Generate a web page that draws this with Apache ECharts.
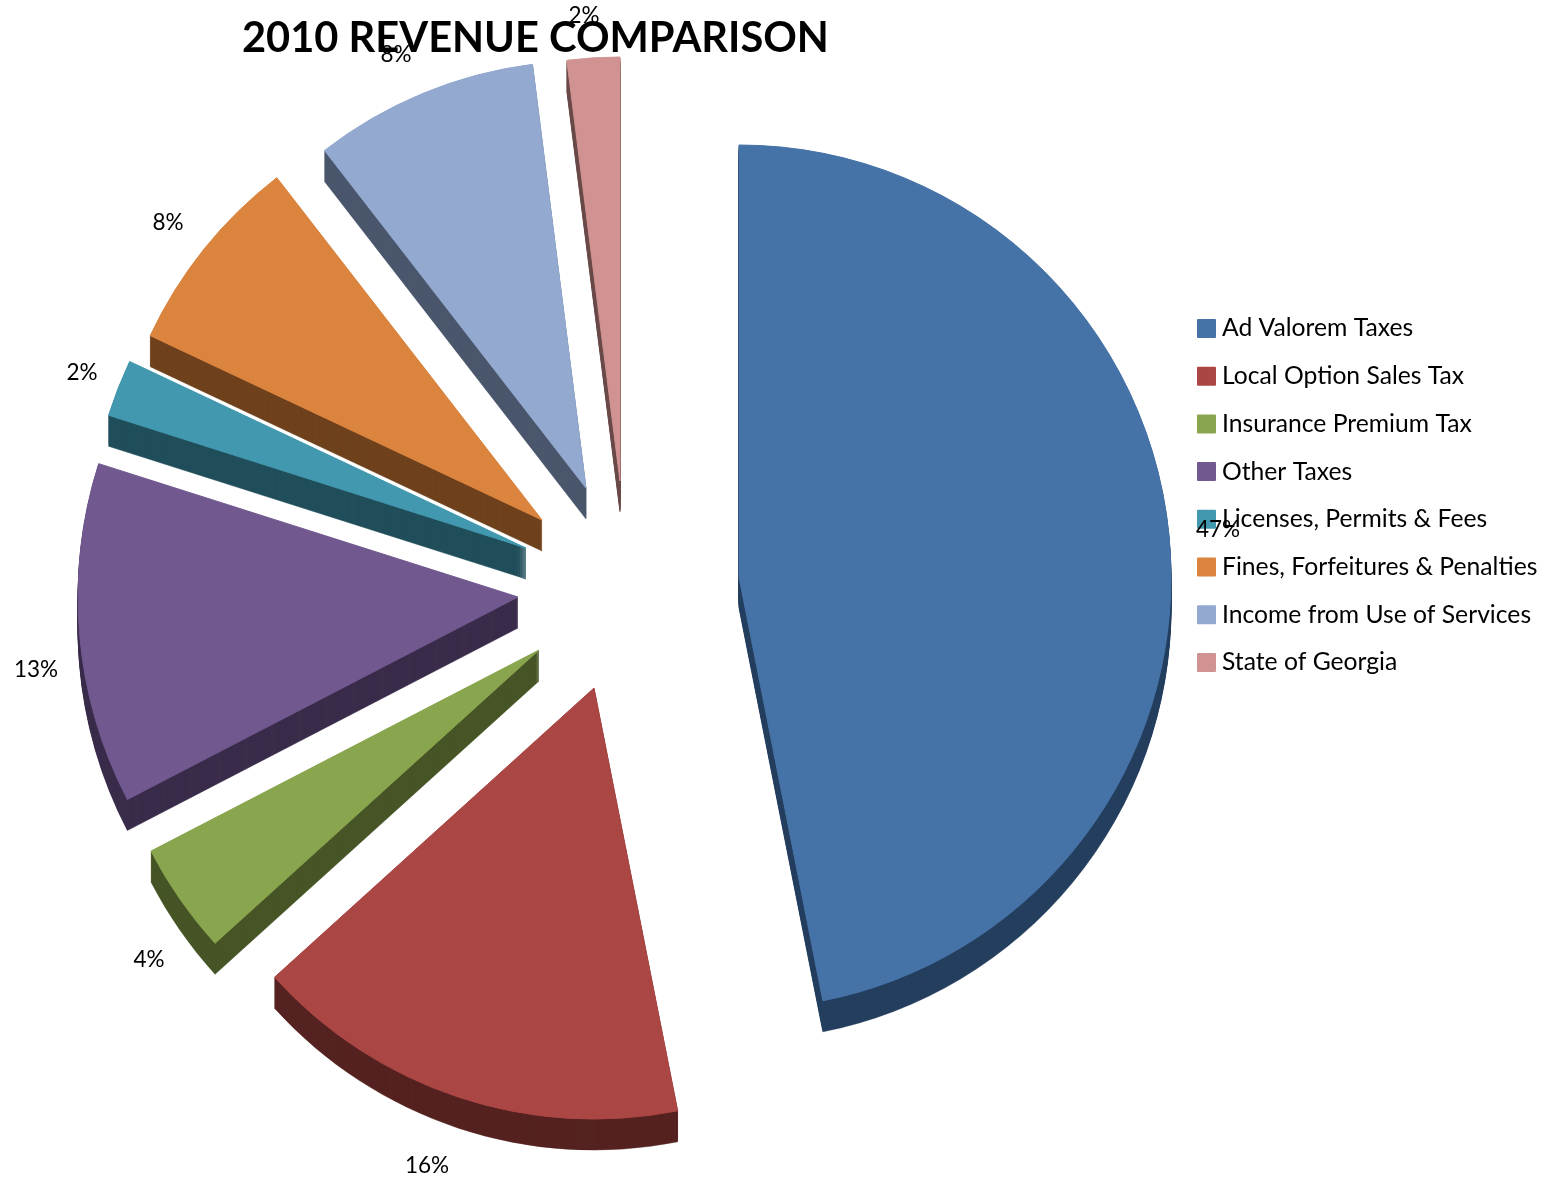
<!DOCTYPE html>
<html>
<head>
<meta charset="utf-8">
<script src="https://cdn.jsdelivr.net/npm/echarts@6/dist/echarts.min.js"></script>
<style>html,body{margin:0;padding:0;background:#fff}#c{width:1554px;height:1182px}</style>
</head>
<body>
<div id="c"></div>
<script>
const titleText = '2010 REVENUE COMPARISON';
const categories = ['Ad Valorem Taxes','Local Option Sales Tax','Insurance Premium Tax','Other Taxes','Licenses, Permits & Fees','Fines, Forfeitures & Penalties','Income from Use of Services','State of Georgia'];
const shares = [46.89,16.4,4.1,12.51,2.1,7.51,8.49,2.0];

const topColors = ['#4673A7','#AA4644','#89A54E','#71588F','#4198AF','#DB843D','#93A9CF','#D19392'];
const sideColors = ['#253F5F','#552220','#465526','#3A2C4B','#214E5B','#6F421D','#4A566C','#6B4A4A'];
const centers = [[739,577],[594,688],[539,650],[518,597],[526,548],[542,520],[586,488],[620,481]];
const radii = [432,431,437,440,438,433,427,424];
const labelCenters = [[1218,530],[427,1166],[149,960],[36,670],[82,373],[168,223],[396,55],[584,16]];
const depth = 31;

const total = shares.reduce((a,b)=>a+b,0);
const series = [];
function slice(i, dy, color, name, withLabel, z){
  const before = shares.slice(0,i).reduce((a,b)=>a+b,0);
  return {
    type:'pie', silent:true, animation:false, z:z,
    center:[centers[i][0], centers[i][1]+dy], radius:[0,radii[i]],
    startAngle: 90 - before/total*360, clockwise:true,
    percentPrecision:0, avoidLabelOverlap:false, minShowLabelAngle:0,
    label:{show:false}, labelLine:{show:false}, emphasis:{disabled:true},
    labelLayout: withLabel ? {x:labelCenters[i][0], y:labelCenters[i][1], align:'center', verticalAlign:'middle', hideOverlap:false} : undefined,
    data:[
      {name:name, value:shares[i],
       itemStyle:{color:color, borderColor:color, borderWidth: withLabel ? 1 : 0.5},
       label:{show:withLabel, formatter:'{d}%', color:'#000', fontFamily:'Lato', fontSize:22.5}},
      {name:'rest '+i, value:total-shares[i], itemStyle:{color:'rgba(0,0,0,0)', borderWidth:0}, label:{show:false}}
    ]
  };
}
for (let i=0;i<shares.length;i++){
  for (let d=depth;d>=1;d--) series.push(slice(i,d,sideColors[i],'side '+i,false,2));
}
for (let i=0;i<shares.length;i++) series.push(slice(i,0,topColors[i],categories[i],true,3));

const chart = echarts.init(document.getElementById('c'),null,{renderer:'canvas'});
chart.setOption({
  backgroundColor:'#fff', animation:false,
  title:{text:titleText, left:242, top:18, z:1, padding:0,
    textStyle:{color:'#000', fontFamily:'Lato', fontWeight:'bold', fontSize:41.6}},
  legend:{orient:'vertical', left:1197, top:314, z:1, padding:0, selectedMode:false, icon:'rect',
    itemWidth:17, itemHeight:17, itemGap:18.7, data:categories,
    textStyle:{color:'#000', fontFamily:'Lato', fontSize:24.7, lineHeight:29, padding:[0,0,0,2]}},
  series:series
});
</script>
</body>
</html>
